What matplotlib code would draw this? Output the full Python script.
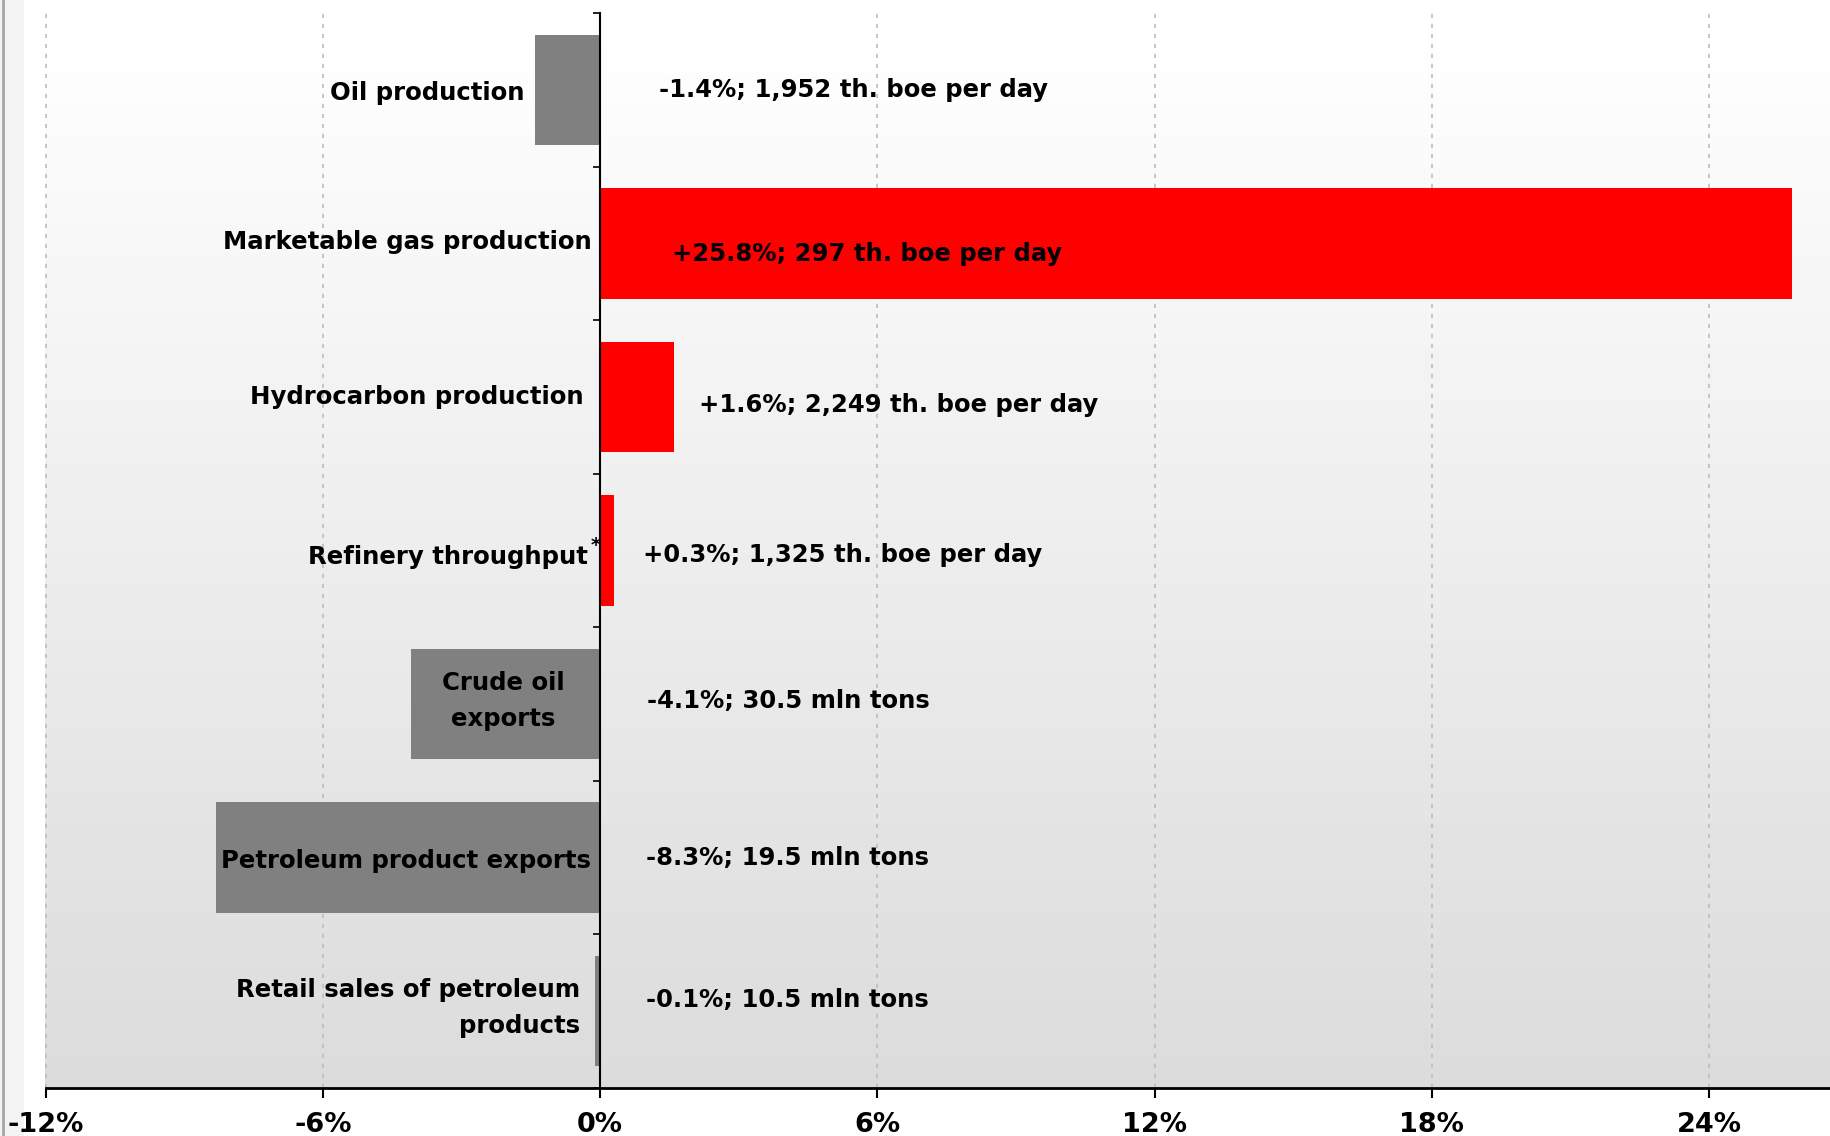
import numpy as np
import matplotlib.pyplot as plt
from matplotlib.patches import Rectangle
from matplotlib.lines import Line2D

# year-on-year change, %
categories = ['Oil production', 'Marketable gas production', 'Hydrocarbon production',
              'Refinery throughput', 'Crude oil\nexports', 'Petroleum product exports',
              'Retail sales of petroleum\nproducts']
changes = [-1.4, 25.8, 1.6, 0.3, -4.1, -8.3, -0.1]
volumes = ['1,952 th. boe per day', '297 th. boe per day', '2,249 th. boe per day',
           '1,325 th. boe per day', '30.5 mln tons', '19.5 mln tons', '10.5 mln tons']
xticks = [-12, -6, 0, 6, 12, 18, 24]

# where the texts sit (x in %, y shift in category units)
name_x = [-1.64, -0.17, -0.35, -0.27, -2.09, -4.19, -0.42]
name_ha = ['right', 'right', 'right', 'right', 'center', 'center', 'right']
name_dy = [0.02, -0.01, 0.0, 0.04, -0.02, 0.02, -0.02]
value_x = [1.27, 1.55, 2.15, 0.94, 1.01, 0.99, 0.99]
value_dy = [0.0, 0.07, 0.05, 0.03, -0.02, 0.0, -0.07]

GRAY = '#808080'
RED = '#ff0000'
FONT = 'DejaVu Sans'

fig = plt.figure(figsize=(18.31, 11.36), dpi=100)
ax = fig.add_axes([45.5 / 1831, 48 / 1136, 1 - 45.5 / 1831, 1075 / 1136])

# white-to-gray backdrop
grad = np.linspace(1.0, 0.86, 256).reshape(-1, 1)
ax.imshow(grad, cmap='gray', vmin=0, vmax=1, aspect='auto',
          extent=[0, 1, 0, 1], transform=ax.transAxes, zorder=0)

n = len(categories)
ypos = np.arange(n)
colors = [RED if v > 0 else GRAY for v in changes]
ax.barh(ypos, changes, height=0.72, color=colors, zorder=3)

ax.set_xlim(-12, 26.64)
ax.set_ylim(n - 0.5, -0.5)

for xt in xticks:
    if xt != 0:
        ax.axvline(xt, color='#bdbdbd', lw=1.2, ls=(0, (2.5, 3.5)), zorder=1)

for i in range(n):
    name = categories[i]
    ax.text(name_x[i], i + name_dy[i], name, ha=name_ha[i], va='center',
            fontsize=17.6, fontweight='bold', family=FONT, zorder=5,
            linespacing=1.6, multialignment=name_ha[i])
    sign = '+' if changes[i] > 0 else ''
    ax.text(value_x[i], i + value_dy[i], f'{sign}{changes[i]:.1f}%; {volumes[i]}',
            ha='left', va='center', fontsize=17.5, fontweight='bold',
            family=FONT, zorder=5)

# footnote mark on refinery throughput
ax.text(-0.2, 3 - 0.03, '*', ha='left', va='center', fontsize=14,
        fontweight='bold', family=FONT, zorder=5)

# zero line acts as the category axis
ax.spines['left'].set_position(('data', 0))
ax.spines['left'].set_linewidth(1.5)
ax.spines['left'].set_zorder(4)
ax.spines['bottom'].set_linewidth(2)
ax.spines['right'].set_visible(False)
ax.spines['top'].set_visible(False)
ax.set_yticks(np.arange(n + 1) - 0.5)
ax.set_yticklabels([])
ax.tick_params(axis='y', direction='out', length=5, width=1.2)

ax.set_xticks(xticks)
ax.set_xticklabels([f'{t}%' for t in xticks])
ax.tick_params(axis='x', direction='out', length=7, width=1.5, pad=10)
for lbl in ax.get_xticklabels():
    lbl.set_fontweight('bold')
    lbl.set_fontsize(19.5)
    lbl.set_family(FONT)

# frame strip at the left edge of the slide
fig.patches.append(Rectangle((0, 0), 24 / 1831, 1, transform=fig.transFigure,
                             facecolor='#f3f3f3', edgecolor='none', zorder=-5))
fig.lines.append(Line2D([3.5 / 1831, 3.5 / 1831], [0, 1], transform=fig.transFigure,
                        color='#a6a6a6', lw=2, zorder=-4))

fig.savefig('out.png', dpi=100)
